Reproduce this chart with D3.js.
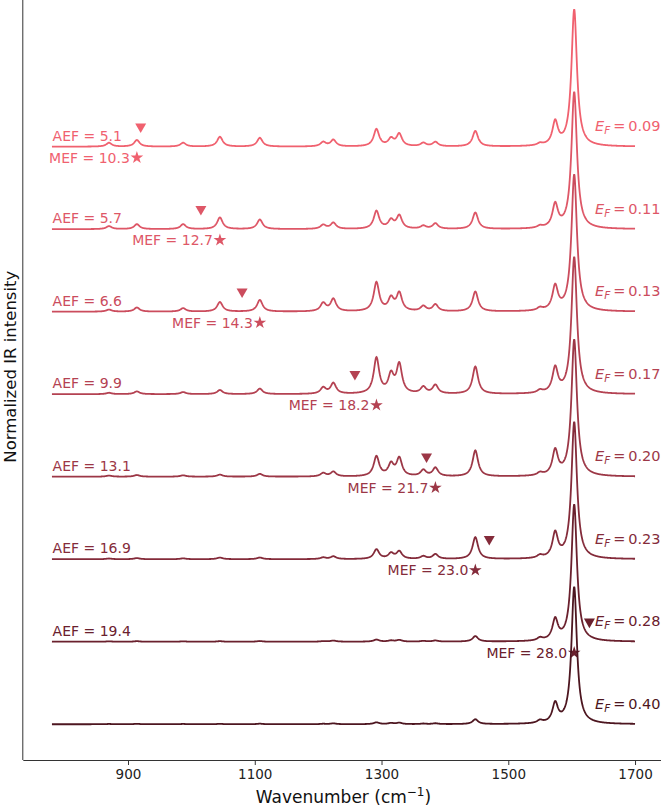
<!DOCTYPE html>
<html lang="en">
<head>
	<meta charset="utf-8">
	<title>IR spectra vs Fermi level</title>
<style>
	body,
	html {
	  margin: 0;
	  padding: 0;
	  background: #fff;
	}
	svg {
	  display: block;
	  font-family: "DejaVu Sans", Arial, sans-serif;
	}
	.axis path, .axis line { stroke: #333; }
	.axis text { fill: #222; font-size: 13.5px; font-family: "DejaVu Sans", sans-serif; }
</style>
</head>
<body>
	<svg></svg>
	<script src="https://d3js.org/d3.v7.min.js"></script>
	<script>

		// peak positions (cm-1)
		let peakPos = [870, 914, 987, 1045, 1108, 1208, 1224, 1292, 1315, 1328, 1366, 1385, 1448, 1550, 1574, 1604];

		// relative peak heights per spectrum, top (E_F = 0.09) to bottom (E_F = 0.40)
		let h009 = [0.028, 0.048, 0.028, 0.072, 0.064, 0.032, 0.048, 0.125, 0.052, 0.089, 0.025, 0.032, 0.113, 0.015, 0.17, 1];
		let h011 = [0.022, 0.036, 0.036, 0.085, 0.070, 0.030, 0.045, 0.130, 0.060, 0.095, 0.022, 0.040, 0.120, 0.015, 0.17, 1];
		let h013 = [0.015, 0.030, 0.025, 0.070, 0.085, 0.060, 0.090, 0.210, 0.090, 0.130, 0.037, 0.050, 0.145, 0.020, 0.175, 1];
		let h017 = [0.010, 0.020, 0.015, 0.030, 0.040, 0.045, 0.078, 0.260, 0.130, 0.210, 0.048, 0.063, 0.200, 0.020, 0.18, 1];
		let h020 = [0.008, 0.012, 0.010, 0.015, 0.020, 0.025, 0.035, 0.145, 0.085, 0.130, 0.045, 0.062, 0.190, 0.020, 0.18, 1];
		let h023 = [0.005, 0.008, 0.006, 0.012, 0.012, 0.012, 0.020, 0.070, 0.040, 0.055, 0.020, 0.035, 0.160, 0.020, 0.18, 1];
		let h028 = [0.003, 0.004, 0.003, 0.004, 0.005, 0.004, 0.008, 0.015, 0.008, 0.012, 0.005, 0.008, 0.040, 0.020, 0.15, 1];
		let h040 = [0.002, 0.003, 0.002, 0.003, 0.004, 0.003, 0.006, 0.013, 0.008, 0.010, 0.004, 0.006, 0.035, 0.020, 0.14, 1];
		let heights = [h009, h011, h013, h017, h020, h023, h028, h040];

		let fermi = ["0.09", "0.11", "0.13", "0.17", "0.20", "0.23", "0.28", "0.40"];
		let aef = ["5.1", "5.7", "6.6", "9.9", "13.1", "16.9", "19.4", null];
		let aefPos = [920, 1015, 1080, 1258, 1371, 1470, 1628, null];
		let mef = ["10.3", "12.7", "14.3", "18.2", "21.7", "23.0", "28.0", null];
		let mefPos = [914, 1045, 1108, 1292, 1385, 1448, 1604, null];

		let colors = ["#f0616f", "#de5767", "#cb4c5d", "#b44252", "#9c3746", "#842b3a", "#6a202d", "#4d1620"];
		let xTicks = [900, 1100, 1300, 1500, 1700];

		let w = 661, h = 809;
		let svg = d3.select("svg").attr("width", w).attr("height", h);

		let x = d3.scaleLinear().domain([734, 1746]).range([22.8, 664.2]);
		let y = d3.scaleLinear().domain([-0.26, 5.46]).range([760, -26.6]);

		let step = 0.6, gam = 5.2;
		let grid = d3.range(780, 1700.01, 0.5);

		// lorentzian broadened spectrum, normalized to its max
		function spectrum(hs) {
			let s = grid.map(v => d3.sum(peakPos, (p, k) => hs[k] * gam * gam / ((v - p) * (v - p) + gam * gam)));
			let m = d3.max(s);
			return s.map(v => v / m);
		}

		let line = d3.line().x(d => x(d[0])).y(d => y(d[1]));

		let g = svg.append("g");

		heights.forEach((hs, i) => {
			let off = (7 - i) * step;
			let s = spectrum(hs);
			g.append("path")
				.datum(grid.map((v, k) => [v, s[k] + off]))
				.attr("d", line)
				.attr("fill", "none")
				.attr("stroke", colors[i])
				.attr("stroke-width", 1.8);

			// E_F label on the right
			let ef = g.append("text")
				.attr("x", x(1637))
				.attr("y", y(off) - 15.5)
				.attr("fill", colors[i])
				.style("font-size", "14.5px");
			ef.append("tspan").attr("font-style", "italic").text("E");
			ef.append("tspan").attr("font-style", "italic").attr("font-size", "10.5px").attr("dy", 3).text("F");
			ef.append("tspan").attr("dy", -3).text("\u2009=\u20090." + fermi[i].slice(2));

			if (aef[i] == null) return;

			g.append("text")
				.attr("x", x(781))
				.attr("y", y(off) - 6)
				.attr("fill", colors[i])
				.style("font-size", "14px")
				.text("AEF = " + aef[i]);

			g.append("path")
				.attr("d", "M-5.5,-4.8L5.5,-4.8L0,4.8Z")
				.attr("transform", `translate(${x(aefPos[i])},${y(off) - 18.4})`)
				.attr("fill", colors[i]);

			let sy = y(off) + 11;
			g.append("path")
				.attr("d", d3.symbol(d3.symbolStar, 50)())
				.attr("transform", `translate(${x(mefPos[i])},${sy})`)
				.attr("fill", colors[i]);

			g.append("text")
				.attr("x", x(mefPos[i]) - 7)
				.attr("y", sy)
				.attr("dy", "0.36em")
				.attr("text-anchor", "end")
				.attr("fill", colors[i])
				.style("font-size", "14px")
				.text("MEF = " + mef[i]);
		});

		// axes: left and bottom spines only
		svg.append("g")
			.attr("class", "axis")
			.attr("transform", "translate(0,760)")
			.call(d3.axisBottom(x).tickValues(xTicks).tickFormat(d3.format("d")).tickSize(5).tickPadding(4).tickSizeOuter(0));

		svg.append("line")
			.attr("x1", x(734)).attr("x2", x(734))
			.attr("y1", 760).attr("y2", 0)
			.attr("stroke", "#333");

		let xl = svg.append("text")
			.attr("x", (x(734) + x(1746)) / 2)
			.attr("y", 803)
			.attr("text-anchor", "middle")
			.style("font-size", "17px")
			.attr("fill", "#111");
		xl.append("tspan").text("Wavenumber (cm");
		xl.append("tspan").attr("dy", -7).style("font-size", "12px").text("\u22121");
		xl.append("tspan").attr("dy", 7).text(")");

		svg.append("text")
			.attr("transform", `translate(15.5,${(y(-0.26) + y(5.46)) / 2}) rotate(-90)`)
			.attr("text-anchor", "middle")
			.style("font-size", "16.5px")
			.attr("fill", "#111")
			.text("Normalized IR intensity");

	</script>
</body>
</html>
